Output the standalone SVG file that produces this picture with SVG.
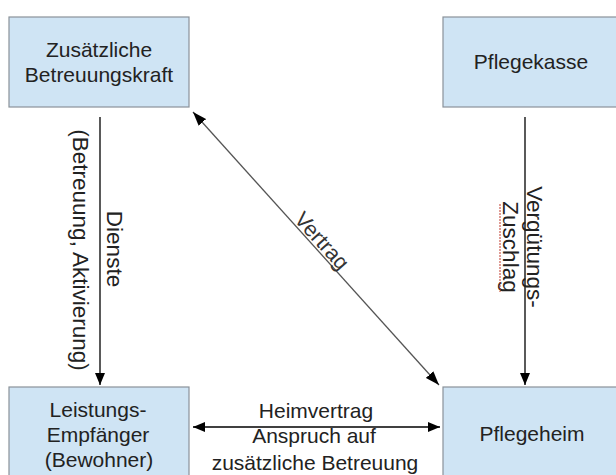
<svg xmlns="http://www.w3.org/2000/svg" width="616" height="475" viewBox="0 0 616 475">
<style>
.box{fill:#cfe4f4;stroke:#8a9299;stroke-width:1.2}
.t{font-family:"Liberation Sans",Arial,sans-serif;font-size:21px;fill:#222;text-anchor:middle}
.r{font-size:22.5px}
.ln{stroke:#000;stroke-width:1.3;fill:none}
.dg{stroke:#555;stroke-width:1.3;fill:none}
</style>
<defs>
<marker id="ah" viewBox="0 0 12 10" refX="12" refY="5" markerWidth="12" markerHeight="10" markerUnits="userSpaceOnUse" orient="auto-start-reverse">
<path d="M0,0 L12,5 L0,10 Z" fill="#000"/>
</marker>
<marker id="ahd" viewBox="0 0 14 10" refX="14" refY="5" markerWidth="14" markerHeight="10" markerUnits="userSpaceOnUse" orient="auto-start-reverse">
<path d="M0,0 L14,5 L0,10 Z" fill="#000"/>
</marker>
</defs>
<rect width="616" height="475" fill="#fff"/>
<g id="betreuungskraft">
<rect class="box" x="9" y="17" width="180" height="90"/>
<text class="t" x="99" y="57">Zusätzliche</text>
<text class="t" x="99" y="82">Betreuungskraft</text>
</g>
<g id="pflegekasse">
<rect class="box" x="443" y="17" width="180" height="90"/>
<text class="t" x="531" y="69">Pflegekasse</text>
</g>
<g id="leistungsempfaenger">
<rect class="box" x="9" y="387" width="180" height="90"/>
<text class="t" x="98" y="417">Leistungs-</text>
<text class="t" x="98" y="442">Empfänger</text>
<text class="t" x="99" y="467">(Bewohner)</text>
</g>
<g id="pflegeheim">
<rect class="box" x="443" y="387" width="180" height="90"/>
<text class="t" x="532" y="441">Pflegeheim</text>
</g>
<g id="connectors">
<line class="ln" x1="100" y1="117" x2="100" y2="385" marker-end="url(#ah)"/>
<text class="t r" transform="translate(107,249) rotate(90)">Dienste</text>
<text class="t r" transform="translate(73,250) rotate(90)">(Betreuung, Aktivierung)</text>
<line class="ln" x1="525" y1="117" x2="525" y2="385" marker-end="url(#ah)"/>
<text class="t r" transform="translate(527,247) rotate(90)">Vergütungs-</text>
<text class="t r" transform="translate(503,247) rotate(90)">Zuschlag</text>
<path d="M500,204 L500,292" stroke="#c0392b" stroke-width="1" stroke-dasharray="2,1" fill="none"/>
<line class="dg" x1="193" y1="112" x2="439" y2="385" marker-start="url(#ahd)" marker-end="url(#ahd)"/>
<text class="t" style="font-size:21.5px;fill:#333" transform="translate(315,247) rotate(48)" y="-2">Vertrag</text>
<line class="ln" x1="193" y1="427" x2="440" y2="427" marker-start="url(#ah)" marker-end="url(#ah)"/>
<text class="t" x="316" y="418">Heimvertrag</text>
<text class="t" x="314" y="443">Anspruch auf</text>
<text class="t" x="315" y="470">zusätzliche Betreuung</text>
</g>
</svg>
